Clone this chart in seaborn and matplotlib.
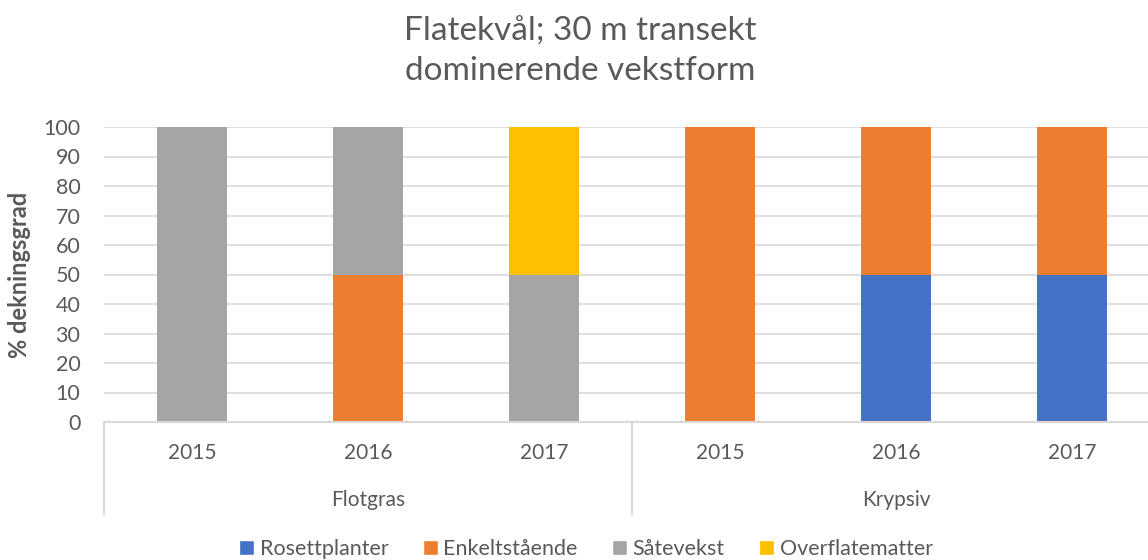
import numpy as np
import pandas as pd

import seaborn as sns
import matplotlib.pyplot as plt
from matplotlib.patches import Patch
import matplotlib.transforms as mtransforms

sns.set_theme(style="white")
plt.rcParams['font.family'] = ['Lato', 'DejaVu Sans']

groups = ['Flotgras', 'Flotgras', 'Flotgras', 'Krypsiv', 'Krypsiv', 'Krypsiv']
years = ['2015', '2016', '2017', '2015', '2016', '2017']
rosettplanter = [0, 0, 0, 0, 50, 50]
enkeltstaende = [0, 50, 0, 100, 50, 50]
satevekst = [100, 50, 50, 0, 0, 0]
overflatematter = [0, 0, 50, 0, 0, 0]

series = ['Rosettplanter', 'Enkeltstående', 'Såtevekst', 'Overflatematter']
colors = ['#4472C4', '#ED7D31', '#A5A5A5', '#FFC000']
grey = '#595959'

df = pd.DataFrame({
    'cat': [g + ' ' + y for g, y in zip(groups, years)],
    'Rosettplanter': rosettplanter,
    'Enkeltstående': enkeltstaende,
    'Såtevekst': satevekst,
    'Overflatematter': overflatematter,
})
cum = df[series].cumsum(axis=1)

fig = plt.figure(figsize=(11.48, 5.6), dpi=100)
ax = fig.add_axes([104 / 1148, 138 / 560, 1056 / 1148, 295 / 560])

# stacked bars: draw the tallest cumulative first, then overlay the lower ones
for s, c in reversed(list(zip(series, colors))):
    sns.barplot(x=df['cat'], y=cum[s], color=c, width=0.4, ax=ax,
                saturation=1, linewidth=0)

ax.set_xlim(-0.5, 5.5)
ax.set_ylim(0, 100)
ax.set_yticks(range(0, 101, 10))
ax.yaxis.grid(True, color='#D9D9D9', linewidth=1.2)
ax.set_axisbelow(True)
for sp in ax.spines.values():
    sp.set_visible(False)
ax.axhline(0, color='#D9D9D9', linewidth=1.5, clip_on=False)
ax.tick_params(axis='y', length=0, pad=17, labelsize=15.5, labelcolor=grey)
ax.set_xticks([])
ax.set_xlabel('')
ax.set_ylabel('% dekningsgrad', fontsize=17, fontweight='bold', color=grey, labelpad=9)

trans = mtransforms.blended_transform_factory(ax.transData, ax.transAxes)
for i, y in enumerate(years):
    ax.text(i, -31 / 295, y, transform=trans, ha='center', va='center',
            fontsize=15, color=grey)
for gx, g in [(1, 'Flotgras'), (4, 'Krypsiv')]:
    ax.text(gx, -78 / 295, g, transform=trans, ha='center', va='center',
            fontsize=15, color=grey)
for xs in [-0.5, 2.5]:
    ax.plot([xs, xs], [0, -93 / 295], transform=trans, color='#D9D9D9',
            linewidth=1.5, clip_on=False)

fig.text(580 / 1148, 1 - 51 / 560, 'Flatekvål; 30 m transekt\ndominerende vekstform',
         ha='center', va='center', fontsize=24, color=grey, linespacing=1.38)

handles = [Patch(facecolor=c, label=s) for s, c in zip(series, colors)]
fig.legend(handles=handles, loc='center', bbox_to_anchor=(586 / 1148, 11 / 560),
           ncol=4, frameon=False, fontsize=15.5, handlelength=0.7, handleheight=0.7,
           handletextpad=0.25, columnspacing=1.6, labelcolor=grey)

fig.savefig('out.png', dpi=100)
